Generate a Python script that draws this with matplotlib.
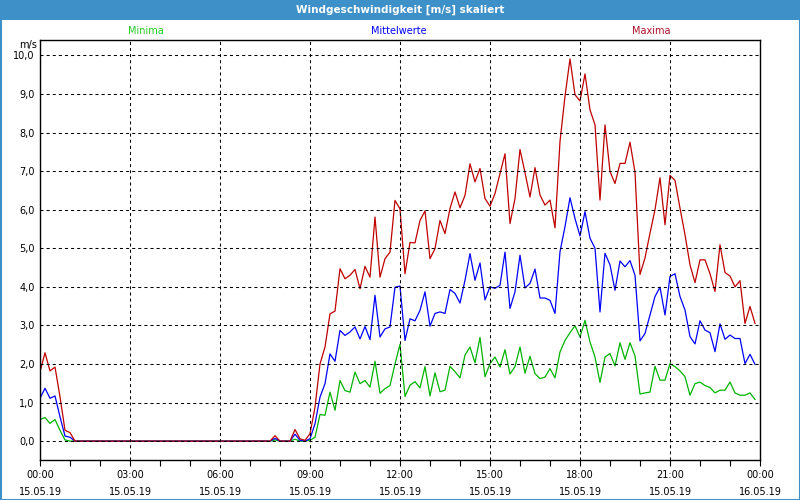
import matplotlib
matplotlib.use("Agg")
import matplotlib.pyplot as plt
from matplotlib.patches import Rectangle
import numpy as np

plt.rcParams['font.family'] = ['DejaVu Sans']
plt.rcParams['lines.scale_dashes'] = False

title = "Windgeschwindigkeit [m/s] skaliert"
series_names = ["Minima", "Mittelwerte", "Maxima"]

# 10-minute values, 15.05.19 00:00 .. 23:50
maxima = [
    1.80, 2.29, 1.82, 1.92, 1.15, 0.28, 0.22,
    0, 0, 0, 0, 0, 0, 0, 0, 0, 0,
    0, 0, 0, 0, 0, 0, 0, 0, 0, 0,
    0, 0, 0, 0, 0, 0, 0, 0, 0, 0,
    0, 0, 0, 0, 0, 0, 0, 0, 0, 0,
    0.14, 0, 0, 0,
    0.30, 0.06, 0.02, 0.19, 0.88, 2.00, 2.44, 3.30, 3.37, 4.47, 4.21, 4.30, 4.45,
    3.95, 4.53, 4.25, 5.81, 4.25, 4.73, 4.90, 6.24, 6.02, 4.34, 5.15, 5.14,
    5.72, 5.97, 4.73, 4.99, 5.72, 5.38, 6.03, 6.46, 6.05, 6.37, 7.19, 6.72,
    7.07, 6.29, 6.09, 6.42, 6.94, 7.45, 5.64, 6.29, 7.56, 6.96, 6.33,
    7.09, 6.38, 6.12, 6.25, 5.53, 7.77, 8.94, 9.91, 8.98, 8.82, 9.52,
    8.59, 8.20, 6.25, 8.20, 6.99, 6.68, 7.20, 7.20, 7.75, 6.97,
    4.32, 4.75, 5.39, 6.00, 6.83, 5.61, 6.89, 6.76, 6.04, 5.35, 4.57, 4.11,
    4.70, 4.70, 4.34, 3.88, 5.09, 4.37, 4.28, 4.00, 4.16, 3.05, 3.49, 3.05,
]
mittel = [
    1.11, 1.37, 1.11, 1.17, 0.63, 0.13, 0.10,
    0, 0, 0, 0, 0, 0, 0, 0, 0, 0,
    0, 0, 0, 0, 0, 0, 0, 0, 0, 0,
    0, 0, 0, 0, 0, 0, 0, 0, 0, 0,
    0, 0, 0, 0, 0, 0, 0, 0, 0, 0,
    0.07, 0, 0, 0,
    0.18, 0.02, 0.00, 0.06, 0.45, 1.14, 1.49, 2.26, 2.07, 2.87, 2.74, 2.83, 2.96,
    2.65, 2.97, 2.63, 3.78, 2.70, 2.91, 2.96, 3.99, 4.02, 2.61, 3.17, 3.12,
    3.39, 3.87, 2.98, 3.31, 3.35, 3.31, 3.93, 3.83, 3.58, 4.17, 4.86, 4.17,
    4.62, 3.66, 4.00, 3.96, 4.04, 4.90, 3.44, 3.87, 4.82, 3.97, 4.09,
    4.46, 3.71, 3.71, 3.65, 3.31, 4.91, 5.56, 6.31, 5.77, 5.32, 5.95,
    5.26, 5.00, 3.35, 4.87, 4.57, 3.91, 4.67, 4.52, 4.68, 4.30,
    2.60, 2.79, 3.27, 3.75, 3.99, 3.27, 4.27, 4.34, 3.75, 3.40, 2.71, 2.52,
    3.12, 2.88, 2.81, 2.32, 3.04, 2.64, 2.75, 2.66, 2.66, 2.01, 2.25, 1.99,
]
minima = [
    0.56, 0.61, 0.46, 0.56, 0.28, 0.03, 0.00,
    0, 0, 0, 0, 0, 0, 0, 0, 0, 0,
    0, 0, 0, 0, 0, 0, 0, 0, 0, 0,
    0, 0, 0, 0, 0, 0, 0, 0, 0, 0,
    0, 0, 0, 0, 0, 0, 0, 0, 0, 0,
    0.03, 0, 0, 0,
    0.05, 0.00, 0.00, 0.02, 0.10, 0.69, 0.67, 1.27, 0.80, 1.57, 1.31, 1.27, 1.79,
    1.49, 1.57, 1.40, 2.07, 1.24, 1.36, 1.44, 2.00, 2.51, 1.16, 1.45, 1.54,
    1.38, 1.93, 1.17, 1.77, 1.28, 1.32, 1.94, 1.80, 1.64, 2.23, 2.44, 2.03,
    2.69, 1.67, 2.01, 2.18, 1.92, 2.37, 1.74, 1.93, 2.44, 1.76, 2.20,
    1.75, 1.62, 1.66, 1.88, 1.64, 2.31, 2.61, 2.81, 2.99, 2.70, 3.13,
    2.57, 2.18, 1.52, 2.18, 2.27, 1.95, 2.55, 2.12, 2.55, 2.21,
    1.22, 1.25, 1.27, 1.94, 1.58, 1.58, 2.01, 1.93, 1.82, 1.67, 1.19, 1.49,
    1.53, 1.44, 1.39, 1.25, 1.32, 1.32, 1.53, 1.25, 1.19, 1.19, 1.25, 1.08,
]

x_tick_hours = [0, 3, 6, 9, 12, 15, 18, 21, 24]
x_tick_labels = ["00:00\n15.05.19", "03:00\n15.05.19", "06:00\n15.05.19",
                 "09:00\n15.05.19", "12:00\n15.05.19", "15:00\n15.05.19",
                 "18:00\n15.05.19", "21:00\n15.05.19", "00:00\n16.05.19"]
y_ticks = [0, 1, 2, 3, 4, 5, 6, 7, 8, 9, 10]
y_tick_labels = ["0,0", "1,0", "2,0", "3,0", "4,0", "5,0", "6,0", "7,0", "8,0", "9,0", "10,0"]

hours = np.arange(len(maxima)) / 6.0

c_min = "#00b400"
c_mit = "#0000ff"
c_max = "#c00000"
bar_col = "#3d90c8"

fig = plt.figure(figsize=(8, 5), dpi=100)
fig.patch.set_facecolor("white")

ax = fig.add_axes([40 / 800, 1 - 460 / 500, 720 / 800, 420 / 500])
ax.plot(hours, minima, color=c_min, lw=0.9)
ax.plot(hours, mittel, color=c_mit, lw=0.9)
ax.plot(hours, maxima, color=c_max, lw=0.9)

ax.set_xlim(0, 24)
ax.set_ylim(-0.49, 10.40)
ax.set_xticks(x_tick_hours)
ax.set_xticklabels(x_tick_labels, fontsize=7)
ax.set_xticks(range(0, 25), minor=True)
ax.tick_params(axis="x", which="both", length=4, width=0.8, direction="out", pad=3, color="black")
for lbl in ax.get_xticklabels():
    lbl.set_linespacing(1.9)
ax.set_yticks(y_ticks)
ax.set_yticklabels(y_tick_labels, fontsize=7)
ax.tick_params(axis="y", length=0, pad=4)

ax.set_axisbelow(False)
ax.grid(True, which="major", color="black", linestyle=(0, (2.2, 2.2)), linewidth=0.75)
for s in ax.spines.values():
    s.set_color("black")
    s.set_linewidth(1.0)

# title bar and frame
fig.add_artist(Rectangle((0, 1 - 20 / 500), 1, 20 / 500, transform=fig.transFigure,
                         facecolor=bar_col, edgecolor="none", zorder=0))
fig.add_artist(Rectangle((0.5 / 800, 0.5 / 500), 799 / 800, 499 / 500, transform=fig.transFigure,
                         facecolor="none", edgecolor=bar_col, linewidth=1.5, zorder=5))
fig.text(0.5, 1 - 10 / 500, title, color="white", fontsize=7.5, ha="center", va="center",
         fontweight="bold")

fig.text(146 / 800, 1 - 31 / 500, series_names[0], color="#22cc22", fontsize=7, ha="center", va="center")
fig.text(399 / 800, 1 - 31 / 500, series_names[1], color=c_mit, fontsize=7, ha="center", va="center")
fig.text(651 / 800, 1 - 31 / 500, series_names[2], color="#b0102a", fontsize=7, ha="center", va="center")
fig.text(37 / 800, 1 - 45 / 500, "m/s", color="black", fontsize=7, ha="right", va="center")

fig.savefig("out.png", dpi=100)
